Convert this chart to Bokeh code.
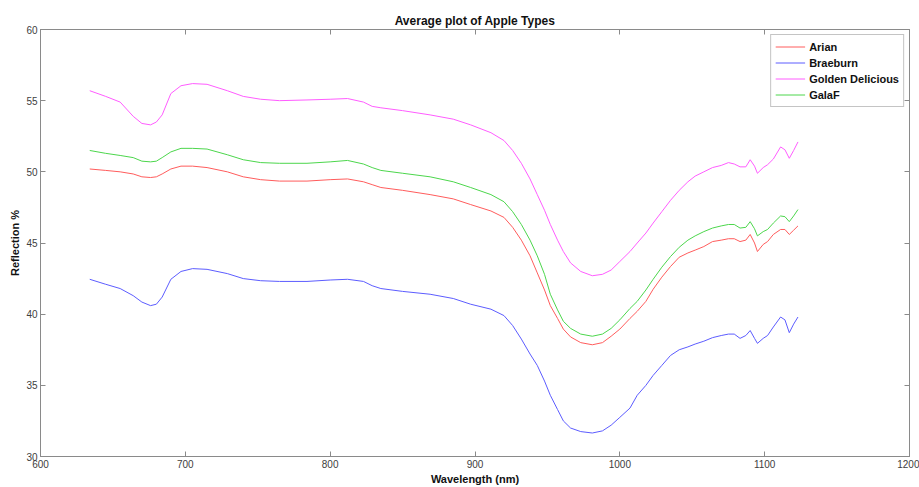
from bokeh.plotting import figure
from bokeh.models import LinearAxis, Range1d, Legend, LegendItem, FixedTicker
from bokeh.embed import file_html
from bokeh.resources import INLINE

wavelength = [634, 645, 655, 664, 670, 676, 680, 684, 690, 697, 705, 715, 729, 740, 752, 765,
              784, 800, 812, 823, 829, 835, 850, 869, 885, 897, 911, 920, 926, 932, 938, 943,
              948, 952, 957, 961, 966, 973, 981, 988, 994, 1000, 1007, 1012, 1018, 1023, 1029,
              1035, 1041, 1047, 1052, 1058, 1064, 1070, 1075, 1079, 1083, 1087, 1090, 1093,
              1095, 1099, 1102, 1106, 1111, 1114, 1117, 1120, 1123]

arian = [50.2, 50.1, 50.0, 49.85, 49.65, 49.6, 49.65, 49.85, 50.2, 50.4, 50.4, 50.3, 50.0, 49.65,
         49.45, 49.35, 49.35, 49.45, 49.5, 49.3, 49.1, 48.9, 48.7, 48.4, 48.1, 47.7, 47.25, 46.8,
         46.1, 45.2, 44.1, 42.9, 41.7, 40.6, 39.7, 38.95, 38.4, 38.0, 37.85, 38.0, 38.45, 38.95,
         39.7, 40.2, 40.9, 41.75, 42.6, 43.35, 44.0, 44.3, 44.5, 44.75, 45.1, 45.2, 45.3, 45.3,
         45.1, 45.2, 45.6, 45.0, 44.4, 44.9, 45.1, 45.6, 45.95, 45.95, 45.6, 45.9, 46.2]

braeburn = [42.45, 42.1, 41.8, 41.3, 40.85, 40.6, 40.7, 41.2, 42.45, 43.0, 43.2, 43.15, 42.85,
            42.5, 42.35, 42.3, 42.3, 42.4, 42.45, 42.3, 42.0, 41.8, 41.6, 41.4, 41.1, 40.7, 40.35,
            39.9, 39.2, 38.25, 37.2, 36.4, 35.3, 34.3, 33.3, 32.5, 32.0, 31.75, 31.65, 31.8, 32.2,
            32.75, 33.4, 34.3, 35.0, 35.7, 36.4, 37.1, 37.5, 37.7, 37.9, 38.1, 38.35, 38.5, 38.6,
            38.6, 38.3, 38.5, 38.85, 38.3, 37.95, 38.3, 38.5, 39.1, 39.8, 39.6, 38.7, 39.3, 39.8]

golden_delicious = [55.7, 55.3, 54.9, 53.9, 53.4, 53.3, 53.5, 54.0, 55.5, 56.05, 56.2, 56.15, 55.7,
                    55.3, 55.1, 55.0, 55.05, 55.1, 55.15, 54.9, 54.6, 54.5, 54.3, 54.0, 53.7, 53.3,
                    52.75, 52.2, 51.5, 50.6, 49.5, 48.4, 47.3, 46.3, 45.2, 44.4, 43.6, 43.0, 42.7,
                    42.8, 43.1, 43.7, 44.4, 45.0, 45.7, 46.4, 47.2, 48.0, 48.7, 49.3, 49.7, 50.0,
                    50.3, 50.45, 50.65, 50.55, 50.35, 50.35, 50.85, 50.4, 49.9, 50.3, 50.5, 50.9,
                    51.75, 51.55, 50.95, 51.5, 52.1]

galaf = [51.5, 51.3, 51.15, 51.0, 50.75, 50.7, 50.75, 51.0, 51.4, 51.65, 51.65, 51.6, 51.2, 50.85,
         50.65, 50.6, 50.6, 50.7, 50.8, 50.55, 50.3, 50.1, 49.9, 49.65, 49.3, 48.9, 48.4, 47.9,
         47.2, 46.3, 45.2, 44.1, 42.8, 41.4, 40.3, 39.5, 39.0, 38.6, 38.45, 38.6, 39.0, 39.6, 40.4,
         40.9, 41.7, 42.45, 43.3, 44.05, 44.7, 45.2, 45.5, 45.8, 46.05, 46.2, 46.3, 46.3, 46.05,
         46.1, 46.5, 46.0, 45.5, 45.8, 45.95, 46.4, 46.9, 46.85, 46.5, 46.9, 47.35]

series_names = ["Arian", "Braeburn", "Golden Delicious", "GalaF"]
series_values = [arian, braeburn, golden_delicious, galaf]
series_colors = ["#ff5c5c", "#5c5cff", "#ff5cff", "#4cd64c"]

x_ticks = [600, 700, 800, 900, 1000, 1100, 1200]
y_ticks = [30, 35, 40, 45, 50, 55, 60]

FONT = "Liberation Sans"
AXIS_COLOR = "#8a8a8a"
TICK_TEXT = "#404040"

p = figure(width=919, height=487, output_backend="svg", toolbar_location=None,
           x_range=Range1d(600, 1200), y_range=Range1d(30, 60),
           title="Average plot of Apple Types",
           min_border_right=10, min_border_top=29, min_border_left=40, min_border_bottom=29)
p.title.align = "center"
p.title.text_font = FONT
p.title.text_font_size = "12px"
p.title.text_font_style = "bold"
p.title.text_color = "#111111"
p.title.standoff = 3

p.xgrid.visible = False
p.ygrid.visible = False
p.outline_line_color = AXIS_COLOR
p.outline_line_width = 1

def style_axis(ax, ticks, show_labels):
    ax.ticker = FixedTicker(ticks=ticks)
    ax.axis_line_color = AXIS_COLOR
    ax.major_tick_line_color = AXIS_COLOR
    ax.major_tick_in = 5
    ax.major_tick_out = 0
    ax.minor_tick_line_color = None
    ax.major_label_text_font = FONT
    ax.major_label_text_font_size = "10px"
    ax.major_label_text_color = TICK_TEXT
    ax.major_label_standoff = 3
    if not show_labels:
        ax.major_label_overrides = {t: "" for t in ticks}
        ax.major_label_standoff = 0

for ax in p.xaxis:
    style_axis(ax, x_ticks, True)
    ax.axis_label = "Wavelength (nm)"
for ax in p.yaxis:
    style_axis(ax, y_ticks, True)
    ax.axis_label = "Reflection %"
for ax in list(p.xaxis) + list(p.yaxis):
    ax.axis_label_text_font = FONT
    ax.axis_label_text_font_size = "11px"
    ax.axis_label_text_font_style = "bold"
    ax.axis_label_text_color = "#111111"
    ax.axis_label_standoff = 2

top_ax = LinearAxis()
style_axis(top_ax, x_ticks, False)
p.add_layout(top_ax, "above")
right_ax = LinearAxis()
style_axis(right_ax, y_ticks, False)
p.add_layout(right_ax, "right")

items = []
for name, vals, col in zip(series_names, series_values, series_colors):
    r = p.line(wavelength, vals, line_color=col, line_width=1)
    items.append(LegendItem(label=name, renderers=[r]))

legend = Legend(items=items, location="top_right")
legend.label_text_font = FONT
legend.label_text_font_size = "11px"
legend.label_text_font_style = "bold"
legend.label_text_color = "#111111"
legend.label_height = 15
legend.glyph_height = 15
legend.glyph_width = 30
legend.label_standoff = 4
legend.spacing = 1
legend.padding = 4
legend.margin = 5
legend.border_line_color = "#8a8a8a"
legend.background_fill_alpha = 1.0
p.add_layout(legend)

open("out.html", "w").write(file_html(p, INLINE))
